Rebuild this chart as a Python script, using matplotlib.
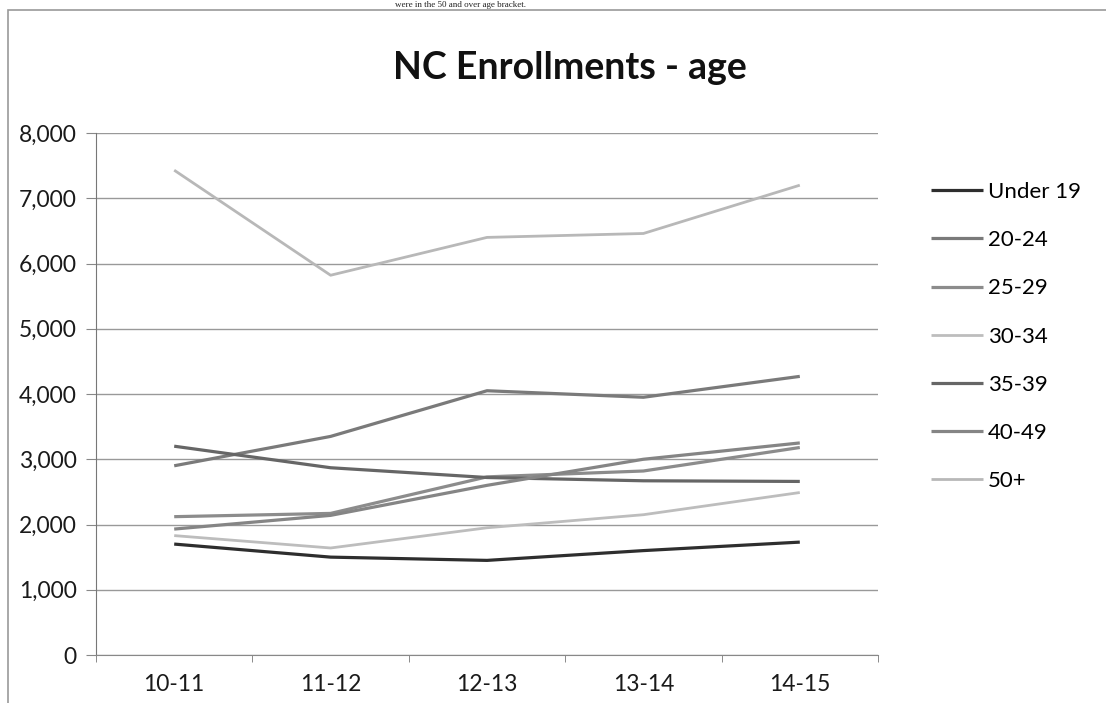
import numpy as np
import matplotlib
matplotlib.use("Agg")
import matplotlib.pyplot as plt
from matplotlib.patches import Rectangle

# enrollment counts per academic year, by age group
years = ["10-11", "11-12", "12-13", "13-14", "14-15"]
under_19 = [1700, 1500, 1450, 1600, 1730]
age_20_24 = [2900, 3350, 4050, 3950, 4270]
age_25_29 = [2120, 2170, 2730, 2820, 3180]
age_30_34 = [1830, 1640, 1950, 2150, 2490]
age_35_39 = [3200, 2870, 2720, 2670, 2660]
age_40_49 = [1930, 2140, 2600, 3000, 3250]
age_50_plus = [7430, 5820, 6400, 6460, 7200]

series = [
    ("Under 19", under_19, "#2e2e2e", 2.3),
    ("20-24", age_20_24, "#7a7a7a", 2.3),
    ("25-29", age_25_29, "#8c8c8c", 2.3),
    ("30-34", age_30_34, "#bdbdbd", 2.0),
    ("35-39", age_35_39, "#666666", 2.3),
    ("40-49", age_40_49, "#858585", 2.3),
    ("50+", age_50_plus, "#b8b8b8", 2.0),
]

fig = plt.figure(figsize=(11.06, 7.03), dpi=100)
fig.patch.set_facecolor("white")

# chart frame plus the line of body text sitting just above it
fig.patches.append(Rectangle((8 / 1106, -0.01), 1.2, 1 - 10 / 703 + 0.01,
                             transform=fig.transFigure, fill=False,
                             edgecolor="#9a9a9a", lw=1.2))
fig.text(395 / 1106, 1 - 1 / 703, "were in the 50 and over age bracket.",
         family="Liberation Serif", fontsize=6.5, va="top", ha="left",
         color="#222222")

ax = fig.add_axes([96 / 1106, 48 / 703, 782 / 1106, 522 / 703])
x = np.arange(len(years))
for name, vals, col, lw in series:
    ax.plot(x, vals, color=col, lw=lw, label=name, solid_capstyle="butt")

ax.set_xlim(-0.5, len(years) - 0.5)
ax.set_ylim(0, 8000)
ax.set_yticks(np.arange(0, 8001, 1000))
ax.set_yticklabels([f"{v:,}" for v in range(0, 8001, 1000)])
ax.yaxis.grid(True, color="#999999", lw=1.0)
ax.set_axisbelow(True)

ax.set_xticks(x)
ax.set_xticklabels(years)
ax.set_xticks(np.arange(-0.5, len(years)), minor=True)
ax.tick_params(axis="x", which="major", length=0, pad=14)
ax.tick_params(axis="x", which="minor", length=5, color="#777777")
ax.tick_params(axis="y", length=7, color="#888888", pad=7)
for lab in ax.get_xticklabels() + ax.get_yticklabels():
    lab.set_family("Lato")
    lab.set_fontsize(16.5)
    lab.set_color("#1a1a1a")

for side in ["top", "right"]:
    ax.spines[side].set_visible(False)
ax.spines["left"].set_color("#777777")
ax.spines["bottom"].set_color("#888888")

fig.text(570 / 1106, 1 - 68 / 703, "NC Enrollments - age", family="Lato",
         fontweight="bold", fontsize=27, ha="center", va="center",
         color="#111111")

leg = fig.legend(loc="upper left", bbox_to_anchor=(922 / 1106, 1 - 173 / 703),
                 frameon=False, prop={"family": "Lato", "size": 16},
                 handlelength=2.35, handletextpad=0.2, labelspacing=1.27,
                 borderaxespad=0)

fig.savefig("out.png", dpi=100)
